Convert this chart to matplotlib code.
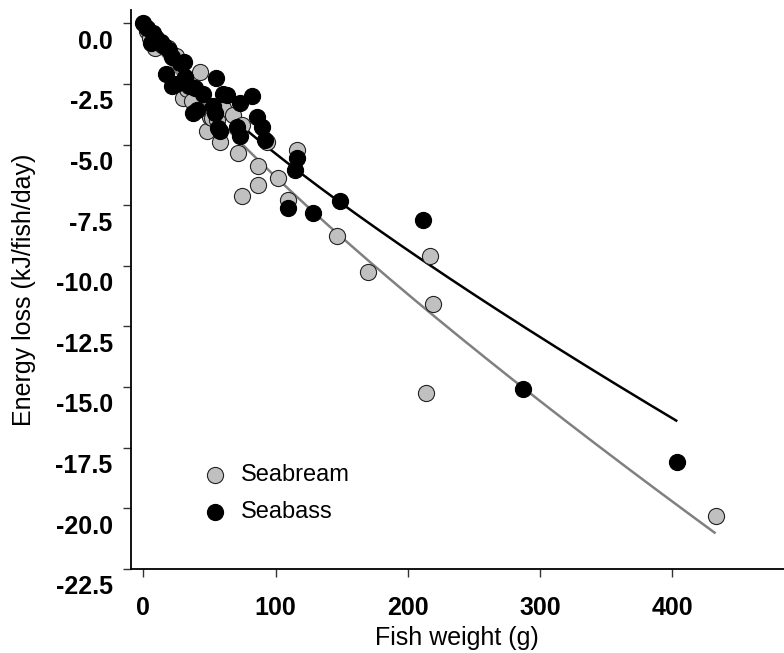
import matplotlib
matplotlib.use("Agg")
import matplotlib.pyplot as plt
import matplotlib.transforms as mtransforms
import numpy as np

plt.rcParams["font.family"] = ["Liberation Sans", "DejaVu Sans"]
plt.rcParams["axes.unicode_minus"] = False

# Seabream (grey) points: fish weight (g), energy loss (kJ/fish/day)
bream_w = [3, 5, 9, 14, 19, 25, 30, 33, 36.6, 42.9, 48, 50.4, 51.7, 55.5, 58,
           60, 68, 72, 74.4, 74.4, 87, 87, 93.3, 102, 109.6, 116, 146.5,
           169.9, 213.5, 217, 219.3, 432.8]
bream_e = [-0.3, -0.6, -1.0, -0.9, -1.0, -1.35, -3.1, -2.7, -3.2, -2.0, -4.45,
           -3.85, -3.9, -4.0, -4.88, -3.5, -3.78, -5.35, -4.2, -7.14, -5.88,
           -6.66, -4.88, -6.38, -7.28, -5.22, -8.76, -10.28, -15.24, -9.61,
           -11.56, -20.32]

# Seabass (black) points
bass_w = [0, 3, 6, 7, 10, 13.4, 16, 19.7, 22, 27.7, 31, 17, 22, 24.7, 31.5,
          34.8, 39, 40.4, 45, 53, 54, 55, 56.7, 60, 63, 37.8, 73.1, 70.6, 82,
          85.7, 89.5, 92, 58, 73.1, 114.7, 116, 109.6, 128.3, 148.7, 211.8,
          287.3, 403.8]
bass_e = [0, -0.2, -0.8, -0.4, -0.6, -0.75, -0.95, -1.1, -1.4, -1.65, -1.6,
          -2.1, -2.6, -2.5, -2.2, -2.6, -2.67, -3.57, -2.9, -3.43, -3.7, -2.25,
          -4.32, -2.9, -2.95, -3.7, -3.3, -4.26, -3.0, -3.85, -4.26, -4.8,
          -4.46, -4.64, -6.04, -5.56, -7.62, -7.81, -7.32, -8.1, -15.07,
          -18.08]

# power fits E = -a * W^b
bream_fit = (0.145, 0.82, 432)
bass_fit = (0.135, 0.80, 403)

x_ticks = [0, 100, 200, 300, 400]
y_ticks = [0.0, -2.5, -5.0, -7.5, -10.0, -12.5, -15.0, -17.5, -20.0, -22.5]

fig = plt.figure(figsize=(7.84, 6.53), dpi=100)
ax = fig.add_axes([0.1667, 0.1291, 0.8333, 0.8556])

# fitted curves
for (a, b, wmax), col in [(bream_fit, "#808080"), (bass_fit, "black")]:
    w = np.linspace(0, wmax, 200)
    ax.plot(w, -a * w ** b, color=col, lw=1.8, zorder=2)

ax.scatter(bream_w, bream_e, s=135, color="#c0c0c0", edgecolor="#222222",
           linewidth=0.8, zorder=3, label="Seabream")
ax.scatter(bass_w, bass_e, s=135, color="black", edgecolor="black",
           linewidth=0.8, zorder=4, label="Seabass")

ax.set_xlim(-9.5, 484.5)
ax.set_ylim(-22.46, 0.55)
ax.set_xticks(x_ticks)
ax.set_xticklabels([str(t) for t in x_ticks])
ax.set_yticks(y_ticks)
ax.set_yticklabels(["%.1f" % t for t in y_ticks])

for side in ["top", "right"]:
    ax.spines[side].set_visible(False)
for side in ["left", "bottom"]:
    ax.spines[side].set_linewidth(1.3)

ax.tick_params(axis="x", length=6, width=1, color="#333333", pad=14,
               labelsize=18)
ax.tick_params(axis="y", length=6, width=1, color="#333333", pad=7,
               labelsize=18)
for lab in ax.get_xticklabels() + ax.get_yticklabels():
    lab.set_fontweight("bold")

ax.set_xlabel("Fish weight (g)", fontsize=18, labelpad=4)
ax.set_ylabel("Energy loss (kJ/fish/day)", fontsize=18, labelpad=14)

fig.legend(loc="upper left", bbox_to_anchor=(0.259, 0.289), frameon=False,
           fontsize=17, handlelength=1.0, handletextpad=0.6,
           labelspacing=0.62, borderpad=0, borderaxespad=0)

# tick labels on the y axis sit a little below their ticks
fig.canvas.draw()
shift = mtransforms.ScaledTranslation(0, -16 / 100, fig.dpi_scale_trans)
for lab in ax.get_yticklabels():
    lab.set_transform(lab.get_transform() + shift)

fig.savefig("out.png", dpi=100)
